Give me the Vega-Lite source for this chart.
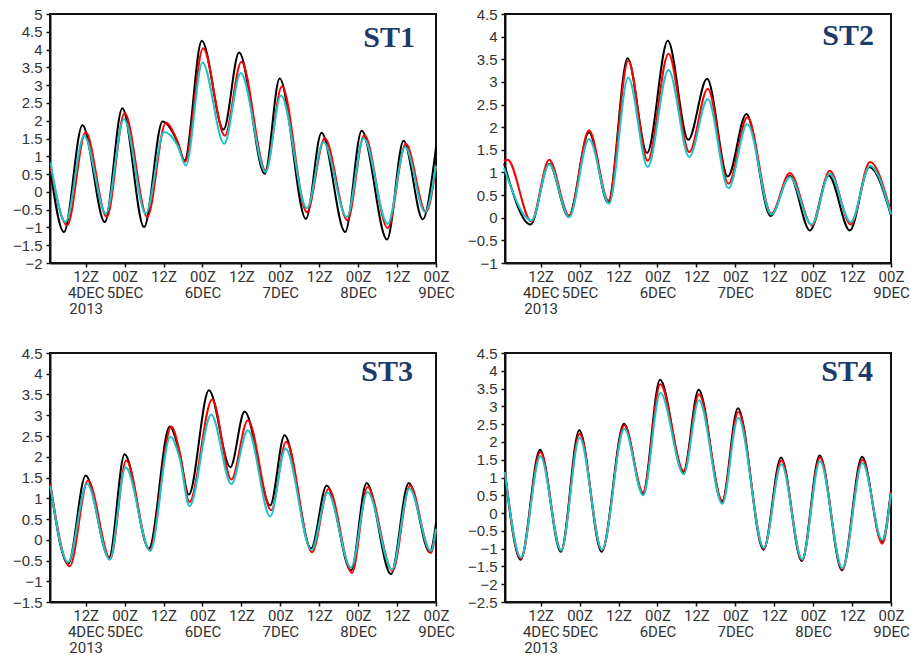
{
  "$schema": "https://vega.github.io/schema/vega-lite/v6.json",
  "background": "white",
  "padding": {"left": 11, "top": 6, "right": 5, "bottom": 0},
  "columns": 2,
  "spacing": {"row": 28, "column": 10},
  "config": {
    "view": {"stroke": "#111", "strokeWidth": 2},
    "axis": {"grid": false, "domainColor": "#111", "domainWidth": 2, "tickColor": "#111", "tickWidth": 1.5, "tickSize": 4, "labelFont": "Liberation Sans", "labelFontSize": 15, "labelColor": "#333", "title": null, "labelPadding": 4},
    "axisX": {"labelFont": "Roboto", "labelFontSize": 15, "labelPadding": 2},
    "title": {"font": "Liberation Serif", "fontWeight": "bold", "fontSize": 30, "color": "#1c3a6b", "anchor": "end", "frame": "group", "baseline": "alphabetic", "offset": -46, "dx": -21},
    "line": {"interpolate": "monotone", "strokeWidth": 2, "clip": true}
  },
  "datasets": {
    "tide": [
      {"p":"ST1","s":"obs","h":1.2,"v":0.55},{"p":"ST1","s":"obs","h":5.3,"v":-1.13},{"p":"ST1","s":"obs","h":11.0,"v":1.87},{"p":"ST1","s":"obs","h":17.9,"v":-0.85},{"p":"ST1","s":"obs","h":23.3,"v":2.35},{"p":"ST1","s":"obs","h":30.0,"v":-0.99},{"p":"ST1","s":"obs","h":35.7,"v":1.98},{"p":"ST1","s":"obs","h":40.3,"v":1.40},{"p":"ST1","s":"obs","h":42.5,"v":0.88},{"p":"ST1","s":"obs","h":47.8,"v":4.25},{"p":"ST1","s":"obs","h":54.5,"v":1.75},{"p":"ST1","s":"obs","h":59.3,"v":3.92},{"p":"ST1","s":"obs","h":67.2,"v":0.51},{"p":"ST1","s":"obs","h":71.8,"v":3.19},{"p":"ST1","s":"obs","h":79.9,"v":-0.76},{"p":"ST1","s":"obs","h":84.7,"v":1.66},{"p":"ST1","s":"obs","h":92.0,"v":-1.13},{"p":"ST1","s":"obs","h":97.1,"v":1.72},{"p":"ST1","s":"obs","h":104.9,"v":-1.34},{"p":"ST1","s":"obs","h":110.0,"v":1.44},{"p":"ST1","s":"obs","h":115.9,"v":-0.77},{"p":"ST1","s":"obs","h":120.0,"v":1.26},
      {"p":"ST1","s":"sim1","h":1.2,"v":0.70},{"p":"ST1","s":"sim1","h":6.3,"v":-0.94},{"p":"ST1","s":"sim1","h":12.0,"v":1.68},{"p":"ST1","s":"sim1","h":18.5,"v":-0.71},{"p":"ST1","s":"sim1","h":24.0,"v":2.22},{"p":"ST1","s":"sim1","h":31.0,"v":-0.71},{"p":"ST1","s":"sim1","h":36.7,"v":1.94},{"p":"ST1","s":"sim1","h":40.3,"v":1.42},{"p":"ST1","s":"sim1","h":42.6,"v":0.84},{"p":"ST1","s":"sim1","h":48.2,"v":4.04},{"p":"ST1","s":"sim1","h":54.9,"v":1.58},{"p":"ST1","s":"sim1","h":60.0,"v":3.66},{"p":"ST1","s":"sim1","h":67.5,"v":0.60},{"p":"ST1","s":"sim1","h":72.5,"v":2.97},{"p":"ST1","s":"sim1","h":80.2,"v":-0.57},{"p":"ST1","s":"sim1","h":85.7,"v":1.51},{"p":"ST1","s":"sim1","h":92.7,"v":-0.80},{"p":"ST1","s":"sim1","h":97.9,"v":1.60},{"p":"ST1","s":"sim1","h":105.1,"v":-1.02},{"p":"ST1","s":"sim1","h":110.7,"v":1.35},{"p":"ST1","s":"sim1","h":116.9,"v":-0.57},{"p":"ST1","s":"sim1","h":120.0,"v":0.70},
      {"p":"ST1","s":"sim2","h":1.2,"v":0.82},{"p":"ST1","s":"sim2","h":5.8,"v":-0.85},{"p":"ST1","s":"sim2","h":11.5,"v":1.58},{"p":"ST1","s":"sim2","h":18.2,"v":-0.61},{"p":"ST1","s":"sim2","h":23.8,"v":2.05},{"p":"ST1","s":"sim2","h":30.5,"v":-0.61},{"p":"ST1","s":"sim2","h":36.2,"v":1.68},{"p":"ST1","s":"sim2","h":40.3,"v":1.30},{"p":"ST1","s":"sim2","h":42.9,"v":0.74},{"p":"ST1","s":"sim2","h":48.0,"v":3.64},{"p":"ST1","s":"sim2","h":54.7,"v":1.35},{"p":"ST1","s":"sim2","h":59.8,"v":3.34},{"p":"ST1","s":"sim2","h":67.5,"v":0.56},{"p":"ST1","s":"sim2","h":72.2,"v":2.71},{"p":"ST1","s":"sim2","h":80.2,"v":-0.46},{"p":"ST1","s":"sim2","h":85.3,"v":1.40},{"p":"ST1","s":"sim2","h":92.5,"v":-0.71},{"p":"ST1","s":"sim2","h":97.7,"v":1.51},{"p":"ST1","s":"sim2","h":105.1,"v":-0.90},{"p":"ST1","s":"sim2","h":110.5,"v":1.26},{"p":"ST1","s":"sim2","h":116.6,"v":-0.57},{"p":"ST1","s":"sim2","h":120.0,"v":0.74},

      {"p":"ST2","s":"obs","h":0.7,"v":1.20},{"p":"ST2","s":"obs","h":8.9,"v":-0.15},{"p":"ST2","s":"obs","h":14.6,"v":1.19},{"p":"ST2","s":"obs","h":20.6,"v":0.02},{"p":"ST2","s":"obs","h":26.9,"v":1.89},{"p":"ST2","s":"obs","h":32.8,"v":0.33},{"p":"ST2","s":"obs","h":38.8,"v":3.52},{"p":"ST2","s":"obs","h":44.8,"v":1.43},{"p":"ST2","s":"obs","h":51.2,"v":3.91},{"p":"ST2","s":"obs","h":57.5,"v":1.72},{"p":"ST2","s":"obs","h":63.3,"v":3.07},{"p":"ST2","s":"obs","h":69.7,"v":0.91},{"p":"ST2","s":"obs","h":75.4,"v":2.29},{"p":"ST2","s":"obs","h":82.9,"v":0.04},{"p":"ST2","s":"obs","h":88.8,"v":0.92},{"p":"ST2","s":"obs","h":95.0,"v":-0.28},{"p":"ST2","s":"obs","h":100.8,"v":0.93},{"p":"ST2","s":"obs","h":107.3,"v":-0.28},{"p":"ST2","s":"obs","h":113.3,"v":1.12},{"p":"ST2","s":"obs","h":120.0,"v":0.05},
      {"p":"ST2","s":"sim1","h":0.7,"v":1.25},{"p":"ST2","s":"sim1","h":1.8,"v":1.28},{"p":"ST2","s":"sim1","h":9.1,"v":-0.08},{"p":"ST2","s":"sim1","h":14.6,"v":1.28},{"p":"ST2","s":"sim1","h":20.8,"v":0.05},{"p":"ST2","s":"sim1","h":26.9,"v":1.93},{"p":"ST2","s":"sim1","h":32.9,"v":0.38},{"p":"ST2","s":"sim1","h":39.0,"v":3.47},{"p":"ST2","s":"sim1","h":45.0,"v":1.26},{"p":"ST2","s":"sim1","h":51.4,"v":3.62},{"p":"ST2","s":"sim1","h":57.8,"v":1.45},{"p":"ST2","s":"sim1","h":63.5,"v":2.85},{"p":"ST2","s":"sim1","h":69.9,"v":0.75},{"p":"ST2","s":"sim1","h":75.7,"v":2.22},{"p":"ST2","s":"sim1","h":83.1,"v":0.09},{"p":"ST2","s":"sim1","h":88.8,"v":0.99},{"p":"ST2","s":"sim1","h":95.7,"v":-0.17},{"p":"ST2","s":"sim1","h":101.1,"v":1.04},{"p":"ST2","s":"sim1","h":107.6,"v":-0.15},{"p":"ST2","s":"sim1","h":113.5,"v":1.23},{"p":"ST2","s":"sim1","h":120.0,"v":0.12},
      {"p":"ST2","s":"sim2","h":0.7,"v":1.10},{"p":"ST2","s":"sim2","h":9.2,"v":-0.06},{"p":"ST2","s":"sim2","h":14.6,"v":1.18},{"p":"ST2","s":"sim2","h":20.8,"v":0.01},{"p":"ST2","s":"sim2","h":26.9,"v":1.74},{"p":"ST2","s":"sim2","h":33.1,"v":0.31},{"p":"ST2","s":"sim2","h":39.0,"v":3.10},{"p":"ST2","s":"sim2","h":45.0,"v":1.12},{"p":"ST2","s":"sim2","h":51.4,"v":3.27},{"p":"ST2","s":"sim2","h":57.8,"v":1.34},{"p":"ST2","s":"sim2","h":63.5,"v":2.62},{"p":"ST2","s":"sim2","h":69.9,"v":0.65},{"p":"ST2","s":"sim2","h":75.7,"v":2.07},{"p":"ST2","s":"sim2","h":83.1,"v":0.07},{"p":"ST2","s":"sim2","h":88.8,"v":0.90},{"p":"ST2","s":"sim2","h":95.5,"v":-0.15},{"p":"ST2","s":"sim2","h":101.1,"v":0.97},{"p":"ST2","s":"sim2","h":107.6,"v":-0.10},{"p":"ST2","s":"sim2","h":113.5,"v":1.15},{"p":"ST2","s":"sim2","h":120.0,"v":0.07},

      {"p":"ST3","s":"obs","h":1.1,"v":1.30},{"p":"ST3","s":"obs","h":6.6,"v":-0.58},{"p":"ST3","s":"obs","h":12.0,"v":1.55},{"p":"ST3","s":"obs","h":19.2,"v":-0.43},{"p":"ST3","s":"obs","h":24.0,"v":2.06},{"p":"ST3","s":"obs","h":31.5,"v":-0.21},{"p":"ST3","s":"obs","h":37.9,"v":2.73},{"p":"ST3","s":"obs","h":40.9,"v":2.11},{"p":"ST3","s":"obs","h":43.8,"v":1.09},{"p":"ST3","s":"obs","h":50.0,"v":3.60},{"p":"ST3","s":"obs","h":56.6,"v":1.75},{"p":"ST3","s":"obs","h":61.0,"v":3.09},{"p":"ST3","s":"obs","h":68.9,"v":0.83},{"p":"ST3","s":"obs","h":73.3,"v":2.52},{"p":"ST3","s":"obs","h":81.5,"v":-0.21},{"p":"ST3","s":"obs","h":86.3,"v":1.31},{"p":"ST3","s":"obs","h":93.8,"v":-0.74},{"p":"ST3","s":"obs","h":98.6,"v":1.37},{"p":"ST3","s":"obs","h":106.1,"v":-0.83},{"p":"ST3","s":"obs","h":111.6,"v":1.37},{"p":"ST3","s":"obs","h":118.1,"v":-0.30},{"p":"ST3","s":"obs","h":120.0,"v":0.40},
      {"p":"ST3","s":"sim1","h":1.1,"v":1.35},{"p":"ST3","s":"sim1","h":7.1,"v":-0.64},{"p":"ST3","s":"sim1","h":12.7,"v":1.43},{"p":"ST3","s":"sim1","h":19.6,"v":-0.46},{"p":"ST3","s":"sim1","h":24.5,"v":1.91},{"p":"ST3","s":"sim1","h":31.7,"v":-0.25},{"p":"ST3","s":"sim1","h":38.4,"v":2.73},{"p":"ST3","s":"sim1","h":41.0,"v":2.11},{"p":"ST3","s":"sim1","h":44.0,"v":0.91},{"p":"ST3","s":"sim1","h":51.0,"v":3.38},{"p":"ST3","s":"sim1","h":56.9,"v":1.45},{"p":"ST3","s":"sim1","h":62.0,"v":2.88},{"p":"ST3","s":"sim1","h":69.2,"v":0.71},{"p":"ST3","s":"sim1","h":73.8,"v":2.36},{"p":"ST3","s":"sim1","h":81.8,"v":-0.30},{"p":"ST3","s":"sim1","h":86.9,"v":1.23},{"p":"ST3","s":"sim1","h":94.1,"v":-0.80},{"p":"ST3","s":"sim1","h":98.9,"v":1.27},{"p":"ST3","s":"sim1","h":106.6,"v":-0.75},{"p":"ST3","s":"sim1","h":112.0,"v":1.31},{"p":"ST3","s":"sim1","h":118.4,"v":-0.32},{"p":"ST3","s":"sim1","h":120.0,"v":0.23},
      {"p":"ST3","s":"sim2","h":1.1,"v":1.30},{"p":"ST3","s":"sim2","h":6.6,"v":-0.54},{"p":"ST3","s":"sim2","h":12.4,"v":1.35},{"p":"ST3","s":"sim2","h":19.4,"v":-0.48},{"p":"ST3","s":"sim2","h":24.3,"v":1.75},{"p":"ST3","s":"sim2","h":31.9,"v":-0.27},{"p":"ST3","s":"sim2","h":38.1,"v":2.48},{"p":"ST3","s":"sim2","h":41.0,"v":1.95},{"p":"ST3","s":"sim2","h":44.0,"v":0.81},{"p":"ST3","s":"sim2","h":50.7,"v":3.02},{"p":"ST3","s":"sim2","h":56.9,"v":1.34},{"p":"ST3","s":"sim2","h":62.0,"v":2.64},{"p":"ST3","s":"sim2","h":68.9,"v":0.56},{"p":"ST3","s":"sim2","h":73.6,"v":2.19},{"p":"ST3","s":"sim2","h":81.6,"v":-0.25},{"p":"ST3","s":"sim2","h":86.6,"v":1.13},{"p":"ST3","s":"sim2","h":93.8,"v":-0.67},{"p":"ST3","s":"sim2","h":98.9,"v":1.15},{"p":"ST3","s":"sim2","h":106.4,"v":-0.72},{"p":"ST3","s":"sim2","h":111.8,"v":1.23},{"p":"ST3","s":"sim2","h":118.4,"v":-0.27},{"p":"ST3","s":"sim2","h":120.0,"v":0.27},

      {"p":"ST4","s":"obs","h":1.0,"v":1.15},{"p":"ST4","s":"obs","h":5.8,"v":-1.31},{"p":"ST4","s":"obs","h":11.8,"v":1.78},{"p":"ST4","s":"obs","h":18.2,"v":-1.09},{"p":"ST4","s":"obs","h":23.9,"v":2.33},{"p":"ST4","s":"obs","h":30.8,"v":-1.09},{"p":"ST4","s":"obs","h":37.7,"v":2.51},{"p":"ST4","s":"obs","h":43.5,"v":0.55},{"p":"ST4","s":"obs","h":48.8,"v":3.75},{"p":"ST4","s":"obs","h":56.0,"v":1.15},{"p":"ST4","s":"obs","h":60.7,"v":3.47},{"p":"ST4","s":"obs","h":67.9,"v":0.31},{"p":"ST4","s":"obs","h":72.8,"v":2.95},{"p":"ST4","s":"obs","h":80.7,"v":-1.03},{"p":"ST4","s":"obs","h":86.1,"v":1.56},{"p":"ST4","s":"obs","h":92.5,"v":-1.35},{"p":"ST4","s":"obs","h":98.0,"v":1.62},{"p":"ST4","s":"obs","h":104.9,"v":-1.61},{"p":"ST4","s":"obs","h":111.1,"v":1.58},{"p":"ST4","s":"obs","h":117.2,"v":-0.81},{"p":"ST4","s":"obs","h":120.0,"v":0.64},
      {"p":"ST4","s":"sim1","h":1.0,"v":1.15},{"p":"ST4","s":"sim1","h":5.9,"v":-1.28},{"p":"ST4","s":"sim1","h":11.9,"v":1.72},{"p":"ST4","s":"sim1","h":18.3,"v":-1.05},{"p":"ST4","s":"sim1","h":24.0,"v":2.23},{"p":"ST4","s":"sim1","h":30.9,"v":-1.05},{"p":"ST4","s":"sim1","h":37.8,"v":2.47},{"p":"ST4","s":"sim1","h":43.6,"v":0.58},{"p":"ST4","s":"sim1","h":48.9,"v":3.62},{"p":"ST4","s":"sim1","h":56.1,"v":1.18},{"p":"ST4","s":"sim1","h":60.8,"v":3.34},{"p":"ST4","s":"sim1","h":68.0,"v":0.35},{"p":"ST4","s":"sim1","h":72.9,"v":2.84},{"p":"ST4","s":"sim1","h":80.8,"v":-1.00},{"p":"ST4","s":"sim1","h":86.2,"v":1.48},{"p":"ST4","s":"sim1","h":92.6,"v":-1.32},{"p":"ST4","s":"sim1","h":98.1,"v":1.56},{"p":"ST4","s":"sim1","h":105.0,"v":-1.58},{"p":"ST4","s":"sim1","h":111.2,"v":1.50},{"p":"ST4","s":"sim1","h":117.3,"v":-0.86},{"p":"ST4","s":"sim1","h":120.0,"v":0.60},
      {"p":"ST4","s":"sim2","h":1.0,"v":1.15},{"p":"ST4","s":"sim2","h":5.9,"v":-1.25},{"p":"ST4","s":"sim2","h":11.9,"v":1.60},{"p":"ST4","s":"sim2","h":18.3,"v":-1.05},{"p":"ST4","s":"sim2","h":24.0,"v":2.12},{"p":"ST4","s":"sim2","h":30.9,"v":-1.03},{"p":"ST4","s":"sim2","h":37.8,"v":2.37},{"p":"ST4","s":"sim2","h":43.6,"v":0.50},{"p":"ST4","s":"sim2","h":48.9,"v":3.38},{"p":"ST4","s":"sim2","h":56.1,"v":1.09},{"p":"ST4","s":"sim2","h":60.8,"v":3.17},{"p":"ST4","s":"sim2","h":68.0,"v":0.26},{"p":"ST4","s":"sim2","h":72.9,"v":2.68},{"p":"ST4","s":"sim2","h":80.8,"v":-0.98},{"p":"ST4","s":"sim2","h":86.2,"v":1.37},{"p":"ST4","s":"sim2","h":92.6,"v":-1.30},{"p":"ST4","s":"sim2","h":98.1,"v":1.46},{"p":"ST4","s":"sim2","h":105.0,"v":-1.55},{"p":"ST4","s":"sim2","h":111.2,"v":1.41},{"p":"ST4","s":"sim2","h":117.3,"v":-0.76},{"p":"ST4","s":"sim2","h":120.0,"v":0.55}
    ]
  },
  "concat": [
    {
      "width": 386, "height": 249,
      "data": {"name": "tide"},
      "transform": [{"filter": "datum.p == 'ST1'"}],
      "title": {"text": "ST1"},
      "mark": {"type": "line"},
      "encoding": {
        "x": {"field": "h", "type": "quantitative", "scale": {"domain": [1, 120], "nice": false, "zero": false},
              "axis": {"values": [12,24,36,48,60,72,84,96,108,120], "labelExpr": "datum.value == 12 ? ['12Z','4DEC','2013'] : (datum.value % 24 == 12 ? '12Z' : ['00Z', (4 + datum.value / 24) + 'DEC'])", "labelLineHeight": 16, "labelFlush": false, "labelOverlap": false, "labelAlign": "center", "labelBaseline": "top"}},
        "y": {"field": "v", "type": "quantitative", "scale": {"domain": [-2, 5], "nice": false, "zero": false},
              "axis": {"values": [-2,-1.5,-1,-0.5,0,0.5,1,1.5,2,2.5,3,3.5,4,4.5,5], "format": ".1~f", "labelOverlap": false, "labelFlush": false}},
        "color": {"field": "s", "type": "nominal", "scale": {"domain": ["obs","sim1","sim2"], "range": ["#000000","#ff0000","#1cc4c6"]}, "legend": null}
      }
    },
    {
      "width": 386, "height": 249,
      "data": {"name": "tide"},
      "transform": [{"filter": "datum.p == 'ST2'"}],
      "title": {"text": "ST2", "dx": -17, "offset": -44},
      "mark": {"type": "line"},
      "encoding": {
        "x": {"field": "h", "type": "quantitative", "scale": {"domain": [1, 120], "nice": false, "zero": false},
              "axis": {"values": [12,24,36,48,60,72,84,96,108,120], "labelExpr": "datum.value == 12 ? ['12Z','4DEC','2013'] : (datum.value % 24 == 12 ? '12Z' : ['00Z', (4 + datum.value / 24) + 'DEC'])", "labelLineHeight": 16, "labelFlush": false, "labelOverlap": false, "labelAlign": "center", "labelBaseline": "top"}},
        "y": {"field": "v", "type": "quantitative", "scale": {"domain": [-1, 4.5], "nice": false, "zero": false},
              "axis": {"values": [-1,-0.5,0,0.5,1,1.5,2,2.5,3,3.5,4,4.5], "format": ".1~f", "labelOverlap": false, "labelFlush": false}},
        "color": {"field": "s", "type": "nominal", "scale": {"domain": ["obs","sim1","sim2"], "range": ["#000000","#ff0000","#1cc4c6"]}, "legend": null}
      }
    },
    {
      "width": 386, "height": 249,
      "data": {"name": "tide"},
      "transform": [{"filter": "datum.p == 'ST3'"}],
      "title": {"text": "ST3", "dx": -23, "offset": -41},
      "mark": {"type": "line"},
      "encoding": {
        "x": {"field": "h", "type": "quantitative", "scale": {"domain": [1, 120], "nice": false, "zero": false},
              "axis": {"values": [12,24,36,48,60,72,84,96,108,120], "labelExpr": "datum.value == 12 ? ['12Z','4DEC','2013'] : (datum.value % 24 == 12 ? '12Z' : ['00Z', (4 + datum.value / 24) + 'DEC'])", "labelLineHeight": 16, "labelFlush": false, "labelOverlap": false, "labelAlign": "center", "labelBaseline": "top"}},
        "y": {"field": "v", "type": "quantitative", "scale": {"domain": [-1.5, 4.5], "nice": false, "zero": false},
              "axis": {"values": [-1.5,-1,-0.5,0,0.5,1,1.5,2,2.5,3,3.5,4,4.5], "format": ".1~f", "labelOverlap": false, "labelFlush": false}},
        "color": {"field": "s", "type": "nominal", "scale": {"domain": ["obs","sim1","sim2"], "range": ["#000000","#ff0000","#1cc4c6"]}, "legend": null}
      }
    },
    {
      "width": 386, "height": 249,
      "data": {"name": "tide"},
      "transform": [{"filter": "datum.p == 'ST4'"}],
      "title": {"text": "ST4", "dx": -18, "offset": -41},
      "mark": {"type": "line"},
      "encoding": {
        "x": {"field": "h", "type": "quantitative", "scale": {"domain": [1, 120], "nice": false, "zero": false},
              "axis": {"values": [12,24,36,48,60,72,84,96,108,120], "labelExpr": "datum.value == 12 ? ['12Z','4DEC','2013'] : (datum.value % 24 == 12 ? '12Z' : ['00Z', (4 + datum.value / 24) + 'DEC'])", "labelLineHeight": 16, "labelFlush": false, "labelOverlap": false, "labelAlign": "center", "labelBaseline": "top"}},
        "y": {"field": "v", "type": "quantitative", "scale": {"domain": [-2.5, 4.5], "nice": false, "zero": false},
              "axis": {"values": [-2.5,-2,-1.5,-1,-0.5,0,0.5,1,1.5,2,2.5,3,3.5,4,4.5], "format": ".1~f", "labelOverlap": false, "labelFlush": false}},
        "color": {"field": "s", "type": "nominal", "scale": {"domain": ["obs","sim1","sim2"], "range": ["#000000","#ff0000","#1cc4c6"]}, "legend": null}
      }
    }
  ]
}
